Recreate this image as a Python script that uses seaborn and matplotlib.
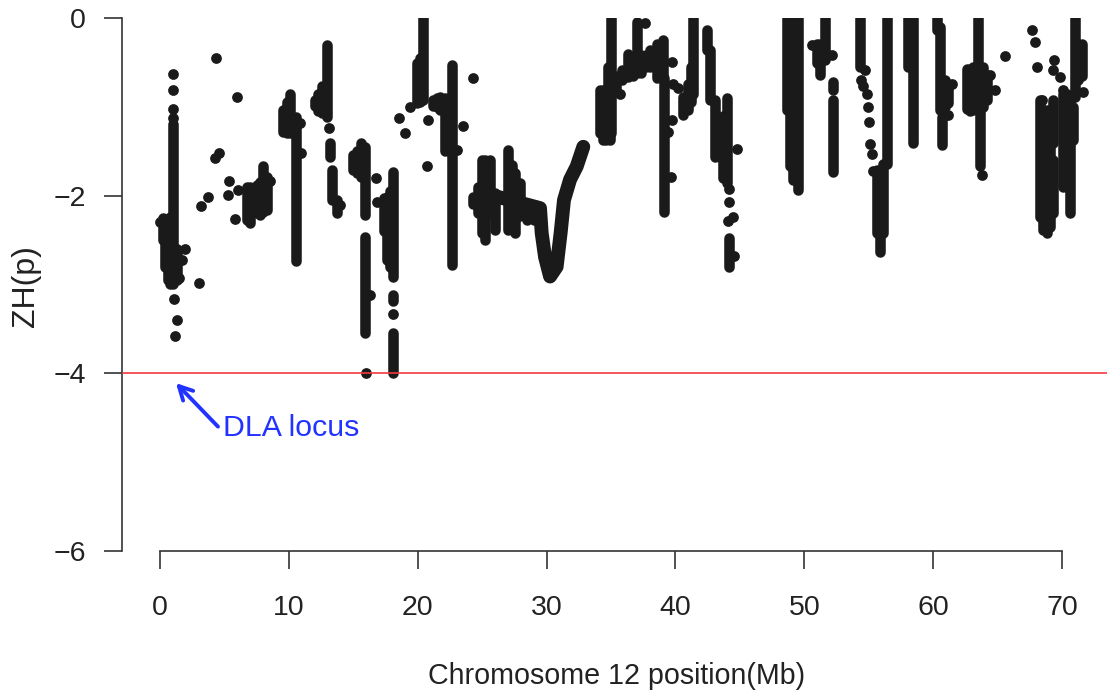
import matplotlib
matplotlib.use("Agg")
import matplotlib.pyplot as plt
import pandas as pd
import seaborn as sns

# vertical runs of overlapping SNP points (position, highest, lowest)
col_x = [0.2, 0.39, 0.6, 0.78, 0.98, 1.3, 6.73, 6.98, 7.5, 7.75, 8.02, 8.28, 9.57, 9.85, 10.09, 10.53, 12.03, 12.3, 12.55, 12.98,
         13.2, 13.32, 13.71, 15.0, 15.3, 15.57, 15.9, 15.9, 17.4, 17.59, 17.85, 18.1, 18.1, 18.1, 19.92, 20.2, 20.43,
         21.2, 21.5, 21.73, 22.1, 22.4, 22.63,
         24.32, 24.7, 24.96, 25.22, 25.61, 26.0, 27.03, 27.3, 27.55, 27.94, 28.46, 29.0,
         34.15, 34.4, 34.65, 34.8, 34.92, 35.03, 35.4, 35.83, 36.35, 36.7, 36.99, 37.35, 37.7, 38.03, 38.54, 39.06, 39.11,
         40.61, 41.0, 41.2, 41.39, 42.42, 42.68, 43.07, 43.46, 43.7, 43.97, 44.18,
         48.63, 48.89, 49.15, 49.54, 50.96, 51.22, 51.61, 52.25, 52.2, 54.32,
         55.62, 55.88, 56.13, 56.39, 58.07, 58.2, 58.46, 60.27, 60.53, 60.66, 60.9, 61.18,
         62.6, 62.85, 63.12, 63.5, 63.64, 63.85, 64.15,
         68.29, 68.55, 68.81, 69.07, 69.27, 69.33, 70.1, 70.36, 70.62, 70.88, 71.01, 71.27, 71.53]
col_top = [-2.25, -2.27, -2.3, -2.24, -1.19, -2.6, -1.9, -1.9, -1.88, -1.85, -1.67, -1.79, -1.04, -0.95, -0.85, -1.11, -0.92, -0.85, -0.77, -0.30,
           -1.41, -1.71, -2.05, -1.54, -1.5, -1.41, -1.45, -2.46, -2.03, -2.01, -1.95, -1.73, -3.12, -3.55, -0.51, -0.45, 0.0,
           -0.92, -0.9, -0.89, -0.9, -0.9, -0.53,
           -2.01, -1.9, -1.6, -1.6, -1.6, -1.97, -1.49, -1.65, -1.75, -1.86, -2.09, -2.1,
           -0.81, -0.81, -0.81, -0.55, -0.81, 0.0, -0.65, -0.59, -0.4, -0.45, -0.04, -0.42, -0.42, -0.36, -0.29, -0.25, -0.68,
           -0.89, -0.74, -0.55, 0.0, -0.14, -0.36, -0.92, -1.22, -1.1, -0.9, -2.48,
           0.0, 0.0, -0.92, 0.0, -0.29, -0.29, 0.0, -0.72, -0.92, 0.0,
           -1.71, -1.71, -1.64, 0.0, 0.0, 0.0, 0.0, 0.0, -0.1, -1.11, -0.7, -0.74,
           -0.57, -0.57, -0.55, 0.0, -1.04, -0.55, -0.64,
           -0.92, -1.04, -1.04, -1.04, -0.92, -1.6, -0.85, -0.85, -0.89, -1.0, 0.0, -0.29, -0.29]
col_bot = [-2.5, -2.8, -2.95, -2.99, -2.99, -2.95, -2.27, -2.31, -2.2, -2.22, -2.18, -2.16, -1.28, -1.3, -1.3, -2.74, -0.99, -1.05, -1.07, -1.11,
           -1.56, -2.05, -2.2, -1.71, -1.75, -1.79, -2.22, -3.55, -2.4, -2.72, -2.8, -2.91, -3.19, -4.0, -0.96, -0.95, -0.92,
           -0.99, -1.0, -1.04, -1.5, -1.5, -2.78,
           -2.09, -2.2, -2.42, -2.5, -2.2, -2.39, -2.39, -2.35, -2.42, -2.23, -2.27, -2.27,
           -1.3, -1.37, -1.37, -0.81, -1.37, -1.3, -0.8, -0.7, -0.66, -0.65, -0.62, -0.62, -0.55, -0.55, -0.68, -0.68, -2.18,
           -1.09, -1.04, -0.95, -0.85, -0.36, -0.92, -1.56, -1.56, -1.8, -1.86, -2.8,
           -1.04, -1.67, -1.82, -1.94, -0.51, -0.64, -0.47, -0.81, -1.73, -0.55,
           -2.42, -2.63, -2.42, -1.64, -0.55, -0.14, -1.41, -0.14, -1.04, -1.43, -1.0, -0.96,
           -1.02, -1.05, -1.04, -1.04, -1.67, -1.0, -0.92,
           -2.24, -2.39, -2.42, -2.35, -1.41, -2.2, -1.9, -1.9, -2.2, -1.37, -0.89, -0.7, -0.65]

# continuous ridge of points between 26 and 33 Mb
trace_x = [26.13, 28.2, 29.49, 29.62, 29.88, 30.27, 30.78, 31.09, 31.35, 31.82, 32.34, 32.85]
trace_y = [-2.01, -2.09, -2.14, -2.42, -2.69, -2.91, -2.8, -2.42, -2.05, -1.82, -1.67, -1.45]

# individually visible points
pt_x = [0.0, 0.98, 0.98, 0.98, 0.98, 1.11, 1.29, 1.16, 1.94, 1.68, 1.5, 3.03, 3.16, 3.7, 4.27, 4.55,
        4.37, 5.95, 5.38, 5.3, 5.82, 6.08, 8.54, 10.86, 10.94, 13.11, 13.97, 15.96, 16.3, 16.73,
        16.81, 18.1, 18.57, 19.01, 19.4, 20.69, 20.8, 23.54, 23.02, 24.32, 35.7, 37.64, 39.71,
        39.84, 40.2, 39.71, 39.45, 39.66, 44.75, 44.18, 44.18, 44.49, 44.1, 44.57, 50.57, 52.13,
        54.71, 54.38, 54.58, 54.84, 54.92, 55.0, 55.1, 55.23, 55.36, 61.44, 61.18, 63.76, 64.41,
        64.8, 65.6, 67.65, 67.9, 68.03, 68.42, 69.2, 69.07, 69.38, 69.33, 69.84, 70.1, 71.6]
pt_y = [-2.3, -0.63, -0.81, -1.02, -1.13, -3.16, -3.4, -3.58, -2.6, -2.72, -2.93, -2.98, -2.12, -2.01,
        -1.58, -1.52, -0.45, -0.89, -1.84, -1.99, -2.26, -1.94, -1.84, -1.18, -1.52, -1.24, -2.1,
        -4.0, -3.12, -1.8, -2.07, -3.33, -1.13, -1.29, -1.0, -1.67, -1.15, -1.22, -1.49, -0.68,
        -0.85, -0.06, -0.49, -0.74, -0.79, -1.15, -1.28, -1.79, -1.47, -1.93, -2.07, -2.24, -2.29,
        -2.68, -0.3, -0.42, -0.58, -0.7, -0.77, -0.86, -1.0, -1.17, -1.42, -1.53, -1.72, -0.74,
        -1.09, -1.77, -0.64, -0.81, -0.43, -0.14, -0.27, -0.55, -0.92, -1.64, -2.12, -0.47, -0.59,
        -0.66, -0.81, -0.83]

x_ticks = [0, 10, 20, 30, 40, 50, 60, 70]
y_ticks = [-6, -4, -2, 0]
threshold = -4
x_label = "Chromosome 12 position(Mb)"
y_label = "ZH(p)"
note = "DLA locus"

sns.set_theme(style="white")
plt.rcParams["font.family"] = ["Liberation Sans", "DejaVu Sans"]

W, H = 1107, 694
fig = plt.figure(figsize=(W / 100, H / 100), dpi=100)
ax = fig.add_axes([122 / W, 1 - 551 / H, (W - 122) / W, (551 - 18) / H])

dot = "#1a1a1a"
columns = pd.DataFrame({
    "run": list(range(len(col_x))) * 2,
    "pos": col_x * 2,
    "zh": col_top + col_bot,
})
sns.lineplot(data=columns, x="pos", y="zh", units="run", estimator=None, sort=False,
             color=dot, lw=7.6, solid_capstyle="round", ax=ax)
ridge = pd.DataFrame({"pos": trace_x, "zh": trace_y})
sns.lineplot(data=ridge, x="pos", y="zh", estimator=None, sort=False, color=dot, lw=10,
             solid_capstyle="round", solid_joinstyle="round", ax=ax)
points = pd.DataFrame({"pos": pt_x, "zh": pt_y})
sns.scatterplot(data=points, x="pos", y="zh", color=dot, s=60, linewidth=0, ax=ax, zorder=3)

ax.axhline(threshold, color="#f2383f", lw=1.2, zorder=4)
ax.annotate("", xy=(1.24, -4.11), xytext=(4.5, -4.6),
            arrowprops=dict(arrowstyle="->,head_length=0.8,head_width=0.42", color="#2233ff",
                            lw=2.8, shrinkA=0, shrinkB=0))
ax.text(4.89, -4.61, note, color="#2233ff", fontsize=21.8, va="center", ha="left")

ax.set_xlim((122 - 160) / 12.886, (W - 160) / 12.886)
ax.set_ylim(-6, 0)
ax.set_xticks(x_ticks)
ax.set_yticks(y_ticks)
ax.set_yticklabels(["\u2212" + str(abs(v)) if v else "0" for v in y_ticks])

for s in ("top", "right"):
    ax.spines[s].set_visible(False)
for s in ("left", "bottom"):
    ax.spines[s].set_color("#333333")
    ax.spines[s].set_linewidth(1.2)
ax.spines["bottom"].set_bounds(0, 70)
ax.spines["left"].set_bounds(-6, 0)
ax.tick_params(axis="x", direction="out", length=13, width=1.2, color="#333333", pad=19,
               labelsize=20.5, labelcolor="#222222", bottom=True)
ax.tick_params(axis="y", direction="out", length=13, width=1.2, color="#333333", pad=13,
               labelsize=20.5, labelcolor="#222222", left=True)
ax.set_xlabel(x_label, fontsize=20.6, color="#222222")
ax.set_ylabel(y_label, fontsize=23, color="#222222")
ax.xaxis.set_label_coords((617 - 122) / (W - 122), -(676 - 551) / (551 - 18), ax.transAxes)
ax.xaxis.label.set_va("center")
ax.yaxis.set_label_coords((26 - 122) / (W - 122), (551 - 286) / (551 - 18), ax.transAxes)
ax.yaxis.label.set_va("center")

fig.savefig("out.png", dpi=100, facecolor="white")
